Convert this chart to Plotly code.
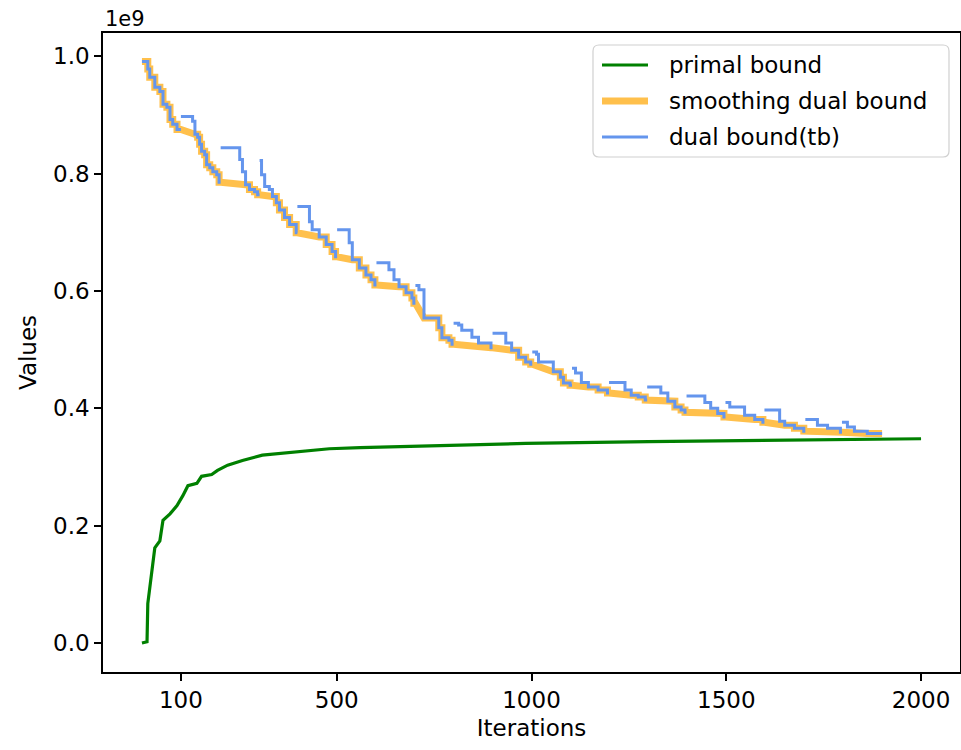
import plotly.graph_objects as go

# ---------------- data (values in units of 1e9) ----------------
primal_iter = [0, 13, 15, 26, 33, 46, 54, 72, 90, 105, 118, 141, 153, 179, 194,
               220, 258, 309, 379, 481, 560, 737, 850, 985, 1300, 1650, 2000]
primal_val = [0.000, 0.002, 0.067, 0.123, 0.162, 0.174, 0.209, 0.220, 0.234, 0.251,
              0.268, 0.272, 0.284, 0.287, 0.294, 0.303, 0.311, 0.320, 0.325, 0.331,
              0.333, 0.336, 0.338, 0.340, 0.343, 0.346, 0.348]

# dual bound (tb): step segments, each one restarting higher
tb_seg_iter = [
    [0, 15, 20, 33, 46, 54, 64, 72, 79, 90],
    [100, 130, 136, 143, 148, 153, 161, 166, 174, 182, 192, 198],
    [202, 251, 258, 266, 276, 289, 297],
    [302, 307, 315, 327, 335, 345, 353, 366, 379, 396],
    [399, 430, 437, 455, 473, 488, 497],
    [501, 532, 540, 558, 575, 588, 598],
    [602, 634, 647, 660, 678, 693, 698],
    [702, 711, 724, 762, 770, 788, 796],
    [800, 813, 821, 847, 864, 896],
    [900, 934, 949, 967, 985, 998],
    [1002, 1013, 1018, 1056, 1074, 1082, 1099],
    [1104, 1113, 1128, 1146, 1171, 1195],
    [1199, 1240, 1256, 1274, 1292],
    [1297, 1332, 1350, 1368, 1384, 1394],
    [1398, 1445, 1460, 1478, 1494],
    [1498, 1509, 1547, 1573, 1594],
    [1598, 1637, 1650, 1675, 1699],
    [1703, 1734, 1760, 1793],
    [1797, 1811, 1829, 1862, 1900],
]
tb_seg_val = [
    [0.991, 0.978, 0.964, 0.947, 0.940, 0.918, 0.913, 0.892, 0.884, 0.875],
    [0.897, 0.889, 0.867, 0.862, 0.850, 0.838, 0.832, 0.815, 0.810, 0.803, 0.798, 0.785],
    [0.844, 0.824, 0.803, 0.781, 0.773, 0.769, 0.764],
    [0.822, 0.798, 0.778, 0.773, 0.761, 0.750, 0.738, 0.725, 0.713, 0.699],
    [0.744, 0.718, 0.704, 0.692, 0.679, 0.667, 0.658],
    [0.704, 0.682, 0.653, 0.639, 0.627, 0.619, 0.610],
    [0.648, 0.636, 0.619, 0.607, 0.597, 0.588, 0.579],
    [0.609, 0.602, 0.554, 0.537, 0.520, 0.516, 0.509],
    [0.545, 0.542, 0.533, 0.521, 0.511, 0.503],
    [0.528, 0.511, 0.499, 0.487, 0.479, 0.475],
    [0.496, 0.492, 0.479, 0.462, 0.453, 0.443, 0.439],
    [0.468, 0.460, 0.444, 0.436, 0.431, 0.426],
    [0.444, 0.431, 0.422, 0.419, 0.414],
    [0.436, 0.426, 0.412, 0.402, 0.397, 0.393],
    [0.421, 0.410, 0.400, 0.391, 0.385],
    [0.410, 0.402, 0.388, 0.381, 0.376],
    [0.397, 0.378, 0.371, 0.366, 0.361],
    [0.381, 0.371, 0.366, 0.359],
    [0.376, 0.368, 0.361, 0.357, 0.357],
]

series_names = ["primal bound", "smoothing dual bound", "dual bound(tb)"]
x_ticks = [100, 500, 1000, 1500, 2000]
y_ticks = [0.0, 0.2, 0.4, 0.6, 0.8, 1.0]

GREEN = "#008000"
ORANGE = "rgba(255,165,0,0.7)"
BLUE = "#6495ED"
FONT = "DejaVu Sans"

# ---------------- build traces ----------------
tb_x, tb_y = [], []
for k, (its, vals) in enumerate(zip(tb_seg_iter, tb_seg_val)):
    tb_x += its
    tb_y += vals
    if k + 1 < len(tb_seg_iter):
        tb_x.append(tb_seg_iter[k + 1][0])
        tb_y.append(vals[-1])
    tb_x.append(None)
    tb_y.append(None)

flat = [(x, v) for its, vals in zip(tb_seg_iter, tb_seg_val) for x, v in zip(its, vals)]
sm_x, sm_y = [], []
cur_min = float("inf")
prev = None
first_above = None
for x, v in flat:
    if v <= cur_min:
        if prev is None:
            sm_x.append(x); sm_y.append(v)
        elif first_above is None:
            sm_x += [x, x]; sm_y += [prev[1], v]
        else:
            sm_x += [first_above, x]; sm_y += [prev[1], v]
        cur_min = v
        prev = (x, v)
        first_above = None
    else:
        if first_above is None:
            first_above = x

fig = go.Figure()
fig.add_trace(go.Scatter(x=primal_iter, y=primal_val, mode="lines", name=series_names[0],
                         line=dict(color=GREEN, width=3.2), showlegend=False))
fig.add_trace(go.Scatter(x=sm_x, y=sm_y, mode="lines", name=series_names[1],
                         line=dict(color=ORANGE, width=7), showlegend=False))
fig.add_trace(go.Scatter(x=tb_x, y=tb_y, mode="lines", name=series_names[2],
                         line=dict(color=BLUE, width=3, shape="hv"),
                         connectgaps=False, showlegend=False))

axis_common = dict(showgrid=False, zeroline=False, showline=True, mirror=True,
                   linecolor="black", linewidth=1.5, ticks="outside", ticklen=7,
                   tickwidth=1.5, tickcolor="black", automargin=False,
                   tickfont=dict(family=FONT, size=23, color="black"))

fig.update_xaxes(range=[-100, 2100], tickvals=x_ticks, ticktext=[str(t) for t in x_ticks],
                 title=dict(text="Iterations", standoff=8,
                            font=dict(family=FONT, size=23)), **axis_common)
fig.update_yaxes(range=[-0.0495, 1.0395], tickvals=y_ticks, tickformat=".1f",
                 title=dict(text="Values", standoff=10,
                            font=dict(family=FONT, size=23)), **axis_common)

fig.add_annotation(text="1e9", xref="paper", yref="paper", x=0, y=1.0,
                   xanchor="left", yanchor="bottom", showarrow=False,
                   font=dict(family=FONT, size=21, color="black"))

# ---------------- matplotlib-style legend (drawn in paper coords) ----------------
W, H = 961, 750
ML, MR, MT, MB = 103, 1, 33, 78
PW, PH = W - ML - MR, H - MT - MB


def px_x(px):
    return (px - ML) / PW


def px_y(py):
    return (H - MB - py) / PH


bx0, bx1, by0, by1, rad = 593, 949, 45, 157, 6
path = (f"M {px_x(bx0 + rad)},{px_y(by0)} L {px_x(bx1 - rad)},{px_y(by0)} "
        f"Q {px_x(bx1)},{px_y(by0)} {px_x(bx1)},{px_y(by0 + rad)} "
        f"L {px_x(bx1)},{px_y(by1 - rad)} "
        f"Q {px_x(bx1)},{px_y(by1)} {px_x(bx1 - rad)},{px_y(by1)} "
        f"L {px_x(bx0 + rad)},{px_y(by1)} "
        f"Q {px_x(bx0)},{px_y(by1)} {px_x(bx0)},{px_y(by1 - rad)} "
        f"L {px_x(bx0)},{px_y(by0 + rad)} "
        f"Q {px_x(bx0)},{px_y(by0)} {px_x(bx0 + rad)},{px_y(by0)} Z")
fig.add_shape(type="path", path=path, xref="paper", yref="paper",
              line=dict(color="#d0d0d0", width=1.2), fillcolor="rgba(255,255,255,0.8)",
              layer="above")

row_y = [65, 101, 137]
row_color = [GREEN, ORANGE, BLUE]
row_width = [3.2, 7, 3]
for name, ry, col, lw in zip(series_names, row_y, row_color, row_width):
    fig.add_shape(type="line", xref="paper", yref="paper",
                  x0=px_x(602), x1=px_x(648), y0=px_y(ry), y1=px_y(ry),
                  line=dict(color=col, width=lw), layer="above")
    fig.add_annotation(text=name, xref="paper", yref="paper",
                       x=px_x(667), y=px_y(ry), xanchor="left", yanchor="middle",
                       showarrow=False, font=dict(family=FONT, size=23, color="black"))

fig.update_layout(
    width=W, height=H,
    margin=dict(l=ML, r=MR, t=MT, b=MB),
    plot_bgcolor="white", paper_bgcolor="white",
    font=dict(family=FONT, size=23, color="black"),
    showlegend=False,
)

fig.write_html("out.html", config={"displayModeBar": False},
               post_script="document.body.style.margin='0px';")
